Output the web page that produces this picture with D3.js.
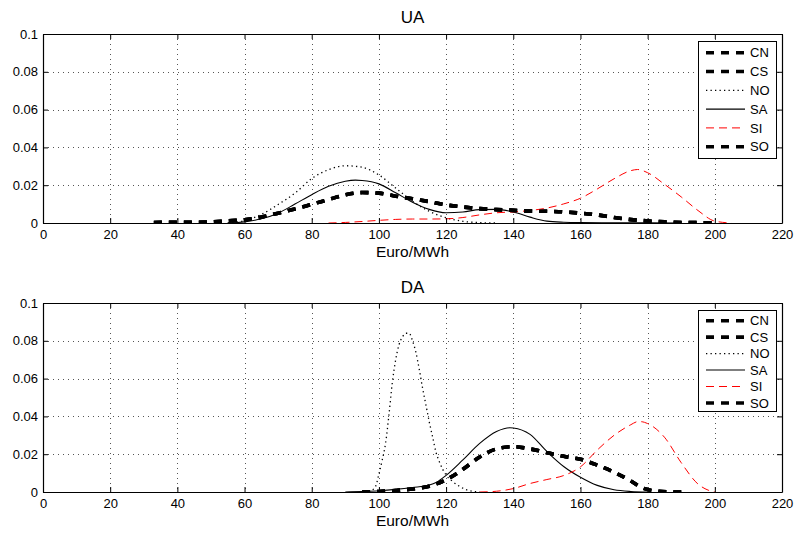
<!DOCTYPE html>
<html>
<head>
<meta charset="utf-8">
<script src="https://cdn.jsdelivr.net/npm/d3@7"></script>
<style>
  html, body { margin: 0; padding: 0; background: #fff; }
  svg { display: block; font-family: "Liberation Sans", Arial, Helvetica, sans-serif; }
</style>
</head>
<body>
<svg id="chart" width="797" height="534"></svg>
<script>
// ---------------- data ----------------
const seriesNames = ["CN", "CS", "NO", "SA", "SI", "SO"];
const xTicks = [0, 20, 40, 60, 80, 100, 120, 140, 160, 180, 200, 220];
const xTickLabels = ["0", "20", "40", "60", "80", "100", "120", "140", "160", "180", "200", "220"];
const yTicks = [0, 0.02, 0.04, 0.06, 0.08, 0.1];
const yTickLabels = ["0", "0.02", "0.04", "0.06", "0.08", "0.1"];
const panelTitles = ["UA", "DA"];
const xLabel = "Euro/MWh";

// UA panel
const uaMarketX = [33, 40, 45, 50, 55, 60, 65, 70, 75, 80, 85, 90, 95, 100, 105, 110, 115, 120, 125, 130, 135, 140, 145, 150, 155, 160, 165, 170, 175, 180, 185, 190, 195, 200];
const uaMarketY = [0.0003, 0.0004, 0.0004, 0.0006, 0.0011, 0.0017, 0.0031, 0.0052, 0.0074, 0.0099, 0.0124, 0.0149, 0.0161, 0.0158, 0.0142, 0.0128, 0.0113, 0.0096, 0.0085, 0.0076, 0.0071, 0.0067, 0.0063, 0.0062, 0.0059, 0.0052, 0.0043, 0.0029, 0.0018, 0.0011, 0.0006, 0.0003, 0.0002, 0.0001];
const uaNOX = [55, 60, 65, 70, 75, 80, 85, 90, 95, 100, 105, 110, 115, 120, 125, 130, 135];
const uaNOY = [0, 0.0012, 0.0045, 0.0098, 0.0158, 0.0235, 0.0282, 0.0303, 0.0295, 0.0254, 0.0185, 0.0115, 0.0062, 0.0028, 0.0009, 0.0002, 0];
const uaSAX = [55, 60, 65, 70, 75, 80, 85, 90, 93, 95, 100, 105, 110, 115, 120, 125, 130, 135, 140, 145, 150, 155, 160, 170, 180, 190];
const uaSAY = [0, 0.0006, 0.0022, 0.0052, 0.0100, 0.0150, 0.0194, 0.0221, 0.0227, 0.0225, 0.0207, 0.0160, 0.0110, 0.0072, 0.0054, 0.0058, 0.0071, 0.0072, 0.0058, 0.0031, 0.0010, 0.0004, 0.0002, 0.0001, 0.0001, 0];
const uaSIX = [85, 90, 95, 100, 105, 110, 115, 120, 125, 130, 135, 140, 145, 150, 155, 160, 165, 170, 175, 177, 180, 185, 190, 195, 200, 205];
const uaSIY = [0, 0.0003, 0.0008, 0.0014, 0.0019, 0.0021, 0.0021, 0.0022, 0.0029, 0.0043, 0.0054, 0.0059, 0.0066, 0.0079, 0.0101, 0.0131, 0.0180, 0.0234, 0.0277, 0.0283, 0.0266, 0.0205, 0.0138, 0.0066, 0.0010, 0];

// DA panel
const daMarketX = [95, 100, 105, 110, 115, 120, 125, 130, 135, 140, 145, 150, 155, 160, 165, 170, 175, 178, 182, 186, 190];
const daMarketY = [0, 0.0003, 0.0008, 0.0016, 0.0031, 0.0065, 0.0120, 0.0185, 0.0228, 0.0240, 0.0228, 0.0208, 0.0189, 0.0173, 0.0142, 0.0105, 0.0058, 0.0025, 0.0006, 0.0001, 0];
const daNOX = [97, 99, 100, 101, 102, 103, 104, 105, 106, 107, 108, 109, 110, 111, 112, 113, 114, 115, 116, 117, 118, 119, 120, 122, 124, 126, 128, 130];
const daNOY = [0, 0.003, 0.0095, 0.017, 0.026, 0.041, 0.058, 0.070, 0.078, 0.082, 0.084, 0.084, 0.080, 0.074, 0.065, 0.055, 0.046, 0.037, 0.029, 0.021, 0.016, 0.012, 0.009, 0.0055, 0.003, 0.0012, 0.0004, 0];
const daSAX = [90, 95, 100, 105, 110, 115, 117, 120, 125, 130, 135, 139, 140, 145, 150, 155, 160, 165, 170, 175, 180];
const daSAY = [0, 0.0003, 0.0007, 0.0014, 0.0024, 0.0037, 0.0050, 0.0088, 0.0170, 0.0257, 0.0320, 0.0340, 0.0339, 0.0305, 0.0214, 0.0135, 0.0078, 0.0035, 0.0012, 0.0003, 0];
const daSIX = [130, 135, 140, 145, 150, 155, 160, 165, 170, 175, 177, 178, 180, 185, 190, 195, 198, 200];
const daSIY = [0, 0.0004, 0.0018, 0.0045, 0.0066, 0.0087, 0.0133, 0.0222, 0.0300, 0.0356, 0.0372, 0.0372, 0.0362, 0.0290, 0.0155, 0.0042, 0.0010, 0];

// ---------------- layout / style ----------------
const W = 797, H = 534;
const plotLeft = 43, plotRight = 782;
const panels = [
  { title: panelTitles[0], top: 34, bottom: 223, titleY: 23, xLabelY: 257,
    legend: { x: 698, y: 41, w: 78, h: 117, row0: 52.7, rowStep: 18.8 },
    data: { CN: [uaMarketX, uaMarketY], CS: [uaMarketX, uaMarketY], NO: [uaNOX, uaNOY],
            SA: [uaSAX, uaSAY], SI: [uaSIX, uaSIY], SO: [uaMarketX, uaMarketY] } },
  { title: panelTitles[1], top: 303, bottom: 492, titleY: 292.5, xLabelY: 526,
    legend: { x: 698, y: 310, w: 78, h: 101, row0: 320.7, rowStep: 16.45 },
    data: { CN: [daMarketX, daMarketY], CS: [daMarketX, daMarketY], NO: [daNOX, daNOY],
            SA: [daSAX, daSAY], SI: [daSIX, daSIY], SO: [daMarketX, daMarketY] } }
];
const styles = {
  CN: { stroke: "#000", width: 3.6, dash: "8,7" },
  CS: { stroke: "#000", width: 3.6, dash: "8,7" },
  NO: { stroke: "#000", width: 1.3, dash: "1.3,3.2" },
  SA: { stroke: "#000", width: 1.1, dash: null },
  SI: { stroke: "#ff0000", width: 1, dash: "8,5" },
  SO: { stroke: "#000", width: 3.6, dash: "8,7" }
};

const svg = d3.select("#chart");
svg.append("rect").attr("width", W).attr("height", H).attr("fill", "#fff");

const x = d3.scaleLinear().domain([0, 220]).range([plotLeft, plotRight]);

panels.forEach((p, pi) => {
  const y = d3.scaleLinear().domain([0, 0.1]).range([p.bottom, p.top]);
  const g = svg.append("g");
  const clipId = "clip" + pi;
  svg.append("clipPath").attr("id", clipId).append("rect")
    .attr("x", plotLeft).attr("y", p.top - 2).attr("width", plotRight - plotLeft).attr("height", p.bottom - p.top + 2);

  // grid
  const grid = g.append("g").attr("stroke", "#555").attr("stroke-width", 1).attr("stroke-dasharray", "1,4");
  grid.selectAll("line.vx").data(xTicks.filter(v => v > 0 && v < 220)).join("line")
    .attr("x1", d => Math.round(x(d)) + 0.5).attr("x2", d => Math.round(x(d)) + 0.5)
    .attr("y1", p.top).attr("y2", p.bottom);
  grid.selectAll("line.hy").data(yTicks.filter(v => v > 0 && v < 0.1)).join("line")
    .attr("y1", d => Math.round(y(d)) + 0.5).attr("y2", d => Math.round(y(d)) + 0.5)
    .attr("x1", plotLeft).attr("x2", plotRight);

  // curves
  const line = d3.line().x(d => x(d[0])).y(d => y(d[1])).curve(d3.curveMonotoneX);
  const curves = g.append("g").attr("clip-path", `url(#${clipId})`);
  seriesNames.forEach(name => {
    const [xs, ys] = p.data[name];
    const pts = xs.map((v, i) => [v, ys[i]]);
    const s = styles[name];
    curves.append("path").datum(pts).attr("d", line)
      .attr("fill", "none").attr("stroke", s.stroke).attr("stroke-width", s.width)
      .attr("stroke-dasharray", s.dash).attr("stroke-linejoin", "round");
  });

  // axes (inward ticks, box)
  const fmtX = (d) => xTickLabels[xTicks.indexOf(d)];
  const fmtY = (d) => yTickLabels[yTicks.indexOf(d)];
  const ax = g.append("g").attr("transform", `translate(0,${p.bottom})`)
    .call(d3.axisBottom(x).tickValues(xTicks).tickFormat(fmtX).tickSizeInner(-5).tickSizeOuter(0).tickPadding(7));
  const ay = g.append("g").attr("transform", `translate(${plotLeft},0)`)
    .call(d3.axisLeft(y).tickValues(yTicks).tickFormat(fmtY).tickSizeInner(-5).tickSizeOuter(0).tickPadding(5));
  const at = g.append("g").attr("transform", `translate(0,${p.top})`)
    .call(d3.axisTop(x).tickValues(xTicks).tickFormat("").tickSizeInner(-5).tickSizeOuter(0));
  const ar = g.append("g").attr("transform", `translate(${plotRight},0)`)
    .call(d3.axisRight(y).tickValues(yTicks).tickFormat("").tickSizeInner(-5).tickSizeOuter(0));
  [ax, ay, at, ar].forEach(a => {
    a.selectAll("text").attr("font-size", 13).attr("fill", "#000")
      .attr("font-family", "'Liberation Sans', Arial, sans-serif");
    a.selectAll("line").attr("stroke", "#000");
    a.select(".domain").attr("stroke", "#000").attr("stroke-width", 1.2);
  });

  // legend
  const L = p.legend;
  const lg = g.append("g");
  lg.append("rect").attr("x", L.x + 0.5).attr("y", L.y + 0.5).attr("width", L.w).attr("height", L.h)
    .attr("fill", "#fff").attr("stroke", "#000").attr("stroke-width", 1);
  seriesNames.forEach((name, i) => {
    const ry = L.row0 + i * L.rowStep;
    const s = styles[name];
    lg.append("line").attr("x1", 706).attr("x2", 745).attr("y1", ry).attr("y2", ry)
      .attr("stroke", s.stroke).attr("stroke-width", s.width).attr("stroke-dasharray", s.dash);
    lg.append("text").attr("x", 750).attr("y", ry).attr("dy", "0.36em")
      .attr("font-size", 13).attr("fill", "#000").text(name);
  });

  // title and x label
  g.append("text").attr("x", (plotLeft + plotRight) / 2).attr("y", p.titleY)
    .attr("text-anchor", "middle").attr("font-size", 17).attr("fill", "#000").text(p.title);
  g.append("text").attr("x", (plotLeft + plotRight) / 2).attr("y", p.xLabelY)
    .attr("text-anchor", "middle").attr("font-size", 15.5).attr("fill", "#000").text(xLabel);
});
</script>
</body>
</html>
